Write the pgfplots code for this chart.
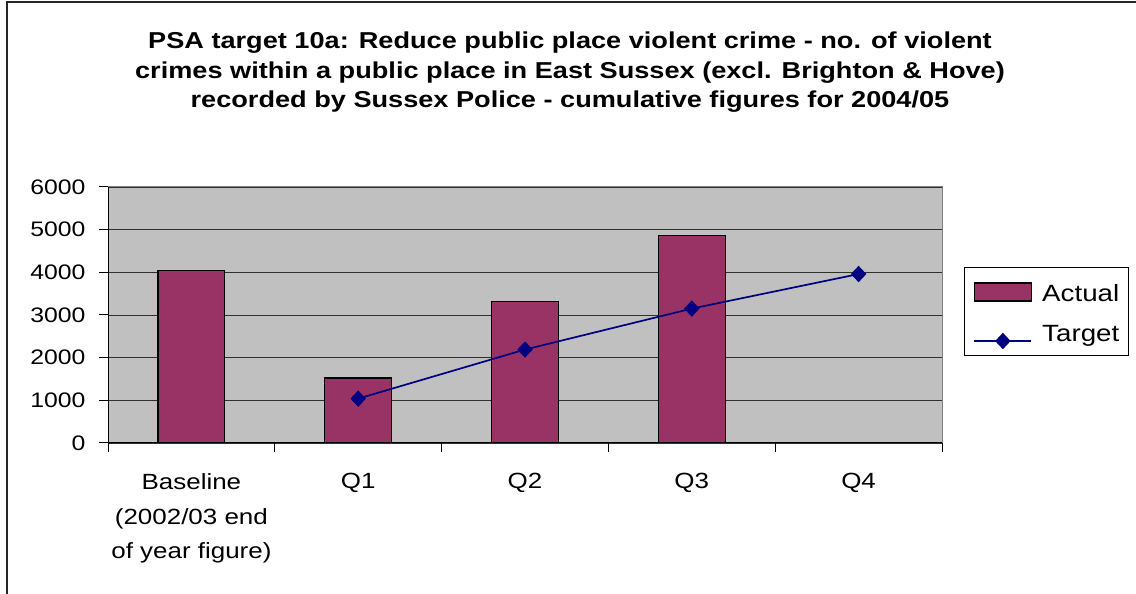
\documentclass[border=0pt]{standalone}
\usepackage{fontspec}
\setmainfont[FakeStretch=1.18]{Liberation Sans}
\usepackage{pgfplots}
\pgfplotsset{compat=1.18}
\definecolor{barcol}{HTML}{993366}
\definecolor{navyline}{HTML}{000080}
\definecolor{plotgray}{HTML}{C0C0C0}
\definecolor{bordergray}{HTML}{808080}
\definecolor{gridcol}{HTML}{303030}
\newcommand\tl{\fontsize{21bp}{25bp}\selectfont}
\pgfplotsset{
  barleg/.style={legend image code/.code={\draw[##1] (0bp,-12.3bp) rectangle (57bp,5.7bp);}},
  lineleg/.style={legend image code/.code={\draw[mark repeat=2,mark phase=2,##1] plot coordinates {(0bp,-7bp) (28.5bp,-7bp) (57bp,-7bp)};}},
}
\begin{document}
\begin{tikzpicture}[x=1bp,y=1bp]
\path[use as bounding box] (0,0) rectangle (1136,594);
\draw[black!85, line width=1.5bp] (7,0) -- (7,592) -- (1136,592);
\begin{scope}[every node/.style={anchor=base, font=\bfseries\fontsize{23bp}{30bp}\selectfont}]
\node at (570,594-48.3) {PSA target 10a: Reduce public place violent crime - no. of violent};
\node at (570,594-78.3) {crimes within a public place in East Sussex (excl. Brighton \& Hove)};
\node at (570,594-108) {recorded by Sussex Police - cumulative figures for 2004/05};
\end{scope}
\begin{axis}[
  at={(108bp,151bp)}, anchor=south west,
  scale only axis, width=834bp, height=256bp,
  xmin=-0.5, xmax=4.5, ymin=0, ymax=6000,
  axis background/.style={fill=plotgray},
  axis line style={draw=bordergray, line width=1bp},
  tick align=outside,
  major tick length=9bp,
  xtick pos=bottom, ytick pos=left,
  ytick={0,1000,2000,3000,4000,5000,6000},
  yticklabels={{\tl 0},{\tl 1000},{\tl 2000},{\tl 3000},{\tl 4000},{\tl 5000},{\tl 6000}},
  yticklabel style={font=\tl, xshift=-10bp},
  tick style={black, line width=1bp},
  xtick={-0.5,0.5,1.5,2.5,3.5,4.5},
  xticklabels={},
  extra x ticks={0,1,2,3,4},
  extra x tick labels={Baseline\\(2002/03 end\\of year figure),Q1,Q2,Q3,Q4},
  extra x tick style={major tick length=0bp, tick style={draw=none},
     xticklabel style={align=center, anchor=north, font=\fontsize{22bp}{34.7bp}\selectfont, yshift=-27bp}},
  ymajorgrids,
  major grid style={draw=gridcol, line width=0.9bp},
  legend style={at={(1.0264,0.6875)}, anchor=north west, draw=black, line width=1bp, fill=white,
    font=\fontsize{23.5bp}{28bp}\selectfont, inner xsep=9bp, inner ysep=7bp,
    nodes={inner sep=0bp}, row sep=22.5bp,
    /tikz/every odd column/.append style={column sep=10bp}},
  legend cell align=left,
]
\addplot[ybar, bar width=0.4, fill=barcol, draw=black, line width=1.3bp, barleg]
  coordinates {(0,4050) (1,1520) (2,3320) (3,4860)};
\addlegendentry{\rule{0pt}{26.7bp}Actual}
\addplot[color=navyline, line width=1.7bp, mark=diamond*, mark size=7bp,
  mark options={solid, fill=navyline, xscale=1.25}, lineleg]
  coordinates {(1,1040) (2,2190) (3,3150) (4,3960)};
\addlegendentry{Target}
\draw[black, line width=1.2bp] (rel axis cs:0,1) -- (rel axis cs:0,0) -- (rel axis cs:1,0);
\end{axis}
\end{tikzpicture}
\end{document}
